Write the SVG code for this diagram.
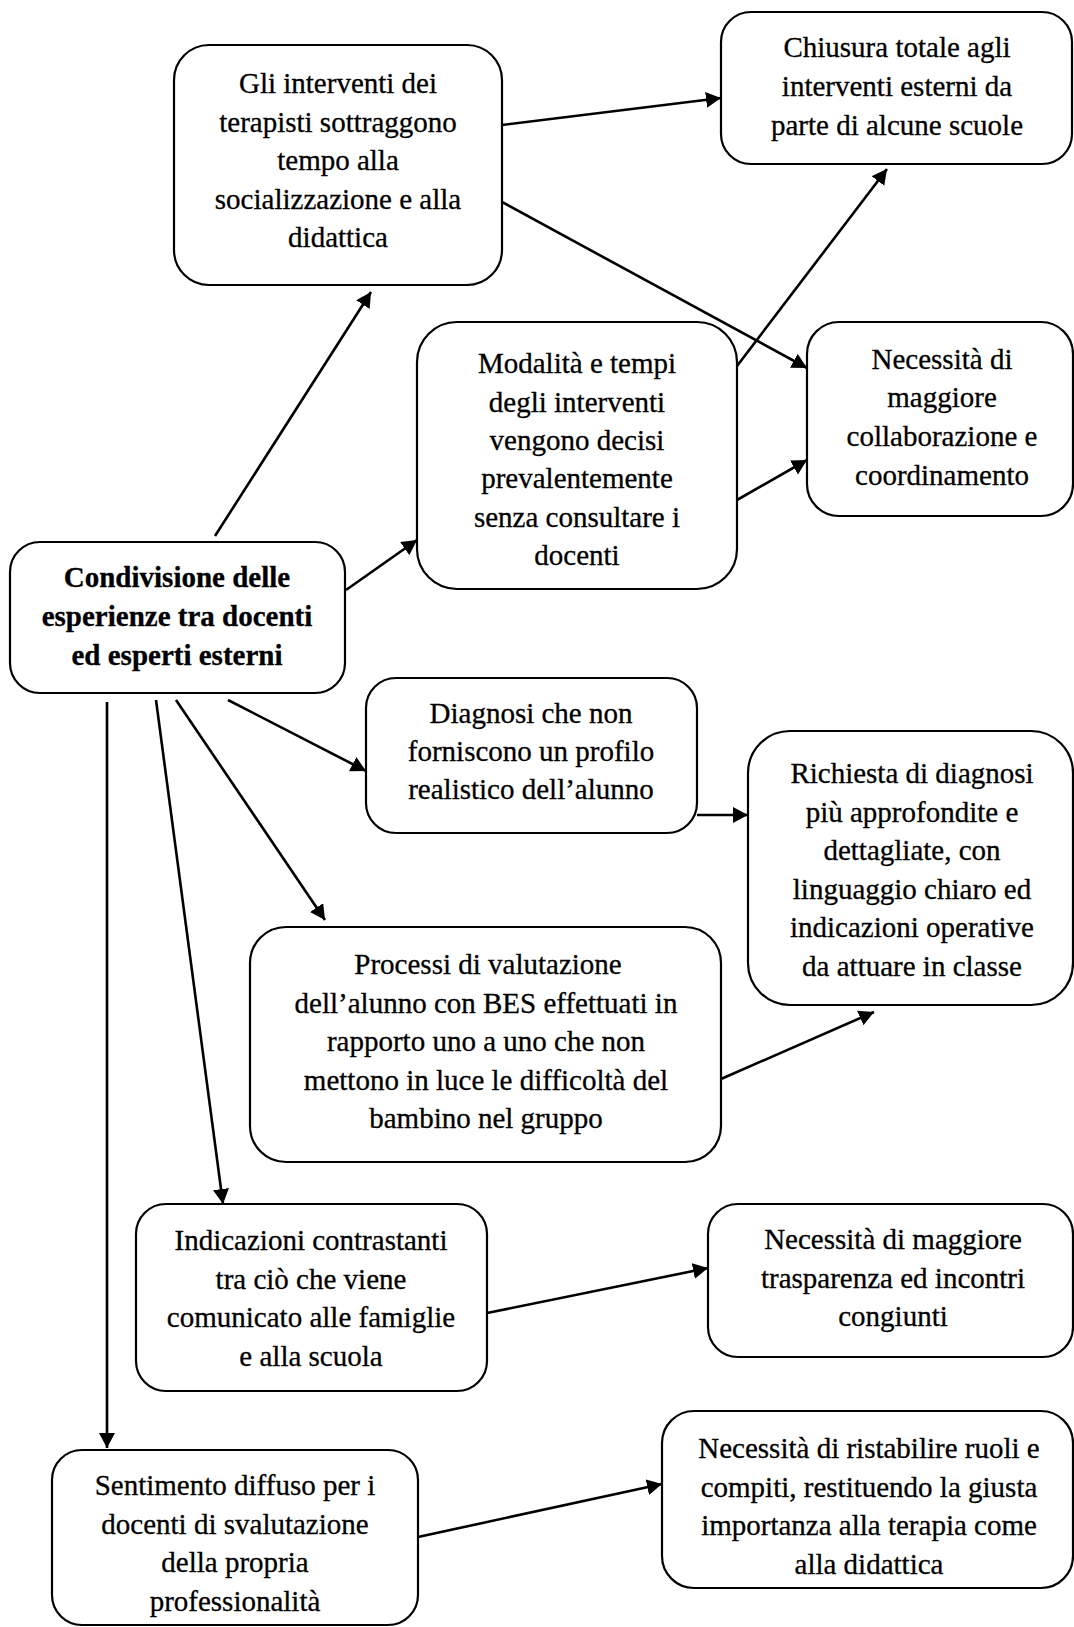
<svg xmlns="http://www.w3.org/2000/svg" width="1074" height="1627" viewBox="0 0 1074 1627">
<style>
.box{fill:#fff;stroke:#000;stroke-width:2.2}
.t{font-family:'Liberation Serif','Times New Roman',serif;font-size:29px;fill:#000;stroke:#000;stroke-width:0.3;text-anchor:middle}
.b{font-weight:bold}
.c{stroke:#000;stroke-width:2.6;fill:none;marker-end:url(#ah)}
</style>
<defs>
<marker id="ah" markerUnits="userSpaceOnUse" markerWidth="18" markerHeight="18" refX="15" refY="8" orient="auto">
<path d="M0,0 L15,8 L0,16 Z" fill="#000"/>
</marker>
</defs>
<rect width="1074" height="1627" fill="#fff"/>
<g id="connectors">
<line class="c" x1="215" y1="536" x2="371" y2="292"/>
<line class="c" x1="346" y1="590" x2="417" y2="540"/>
<line class="c" x1="502" y1="125" x2="721" y2="98"/>
<line class="c" x1="502" y1="202" x2="807" y2="368"/>
<line class="c" x1="737" y1="366" x2="887" y2="169"/>
<line class="c" x1="737" y1="500" x2="807" y2="460"/>
<line class="c" x1="228" y1="700" x2="366" y2="771"/>
<line class="c" x1="176" y1="700" x2="325" y2="920"/>
<line class="c" x1="156" y1="700" x2="223" y2="1204"/>
<line class="c" x1="107" y1="702" x2="107" y2="1448"/>
<line class="c" x1="697" y1="815" x2="748" y2="815"/>
<line class="c" x1="721" y1="1079" x2="874" y2="1012"/>
<line class="c" x1="487" y1="1313" x2="708" y2="1268"/>
<line class="c" x1="418" y1="1537" x2="662" y2="1484"/>
</g>
<g id="n-center">
<rect class="box" x="10" y="542" width="335" height="151" rx="30"/>
<text class="t b"><tspan x="177" y="587">Condivisione delle</tspan><tspan x="177" y="626">esperienze tra docenti</tspan><tspan x="177" y="665">ed esperti esterni</tspan></text>
</g>
<g id="n-interventi">
<rect class="box" x="174" y="45" width="328" height="240" rx="35"/>
<text class="t"><tspan x="338" y="93">Gli interventi dei</tspan><tspan x="338" y="131.5">terapisti sottraggono</tspan><tspan x="338" y="170">tempo alla</tspan><tspan x="338" y="208.5">socializzazione e alla</tspan><tspan x="338" y="247">didattica</tspan></text>
</g>
<g id="n-chiusura">
<rect class="box" x="721" y="12" width="351" height="152" rx="30"/>
<text class="t"><tspan x="897" y="57">Chiusura totale agli</tspan><tspan x="897" y="96">interventi esterni da</tspan><tspan x="897" y="135">parte di alcune scuole</tspan></text>
</g>
<g id="n-modalita">
<rect class="box" x="417" y="322" width="320" height="267" rx="40"/>
<text class="t"><tspan x="577" y="373">Modalità e tempi</tspan><tspan x="577" y="412">degli interventi</tspan><tspan x="577" y="450">vengono decisi</tspan><tspan x="577" y="488">prevalentemente</tspan><tspan x="577" y="527">senza consultare i</tspan><tspan x="577" y="565">docenti</tspan></text>
</g>
<g id="n-collaborazione">
<rect class="box" x="807" y="322" width="266" height="194" rx="32"/>
<text class="t"><tspan x="942" y="369">Necessità di</tspan><tspan x="942" y="407">maggiore</tspan><tspan x="942" y="446">collaborazione e</tspan><tspan x="942" y="485">coordinamento</tspan></text>
</g>
<g id="n-diagnosi">
<rect class="box" x="366" y="678" width="331" height="155" rx="30"/>
<text class="t"><tspan x="531" y="723">Diagnosi che non</tspan><tspan x="531" y="761">forniscono un profilo</tspan><tspan x="531" y="799">realistico dell’alunno</tspan></text>
</g>
<g id="n-richiesta">
<rect class="box" x="748" y="731" width="325" height="274" rx="42"/>
<text class="t"><tspan x="912" y="783">Richiesta di diagnosi</tspan><tspan x="912" y="822">più approfondite e</tspan><tspan x="912" y="860">dettagliate, con</tspan><tspan x="912" y="899">linguaggio chiaro ed</tspan><tspan x="912" y="937">indicazioni operative</tspan><tspan x="912" y="976">da attuare in classe</tspan></text>
</g>
<g id="n-processi">
<rect class="box" x="250" y="927" width="471" height="235" rx="36"/>
<text class="t"><tspan x="488" y="974">Processi di valutazione</tspan><tspan x="486" y="1013">dell’alunno con BES effettuati in</tspan><tspan x="486" y="1051">rapporto uno a uno che non</tspan><tspan x="486" y="1090">mettono in luce le difficoltà del</tspan><tspan x="486" y="1128">bambino nel gruppo</tspan></text>
</g>
<g id="n-indicazioni">
<rect class="box" x="136" y="1204" width="351" height="187" rx="30"/>
<text class="t"><tspan x="311" y="1250">Indicazioni contrastanti</tspan><tspan x="311" y="1289">tra ciò che viene</tspan><tspan x="311" y="1327">comunicato alle famiglie</tspan><tspan x="311" y="1366">e alla scuola</tspan></text>
</g>
<g id="n-trasparenza">
<rect class="box" x="708" y="1204" width="365" height="153" rx="30"/>
<text class="t"><tspan x="893" y="1249">Necessità di maggiore</tspan><tspan x="893" y="1288">trasparenza ed incontri</tspan><tspan x="893" y="1326">congiunti</tspan></text>
</g>
<g id="n-sentimento">
<rect class="box" x="52" y="1450" width="366" height="175" rx="30"/>
<text class="t"><tspan x="235" y="1495">Sentimento diffuso per i</tspan><tspan x="235" y="1534">docenti di svalutazione</tspan><tspan x="235" y="1572">della propria</tspan><tspan x="235" y="1611">professionalità</tspan></text>
</g>
<g id="n-ruoli">
<rect class="box" x="662" y="1411" width="411" height="177" rx="32"/>
<text class="t"><tspan x="869" y="1458">Necessità di ristabilire ruoli e</tspan><tspan x="869" y="1497">compiti, restituendo la giusta</tspan><tspan x="869" y="1535">importanza alla terapia come</tspan><tspan x="869" y="1574">alla didattica</tspan></text>
</g>
</svg>
